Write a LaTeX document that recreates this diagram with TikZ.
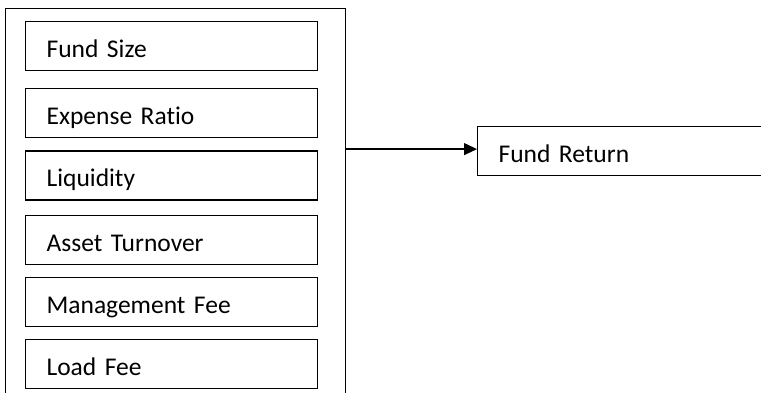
\documentclass[tikz,border=0pt]{standalone}
\usepackage{fontspec}
\setmainfont{Carlito}[Ligatures=NoCommon]
\usetikzlibrary{arrows.meta, positioning}

\begin{document}
\begin{tikzpicture}[
      x = 1pt, y = 1pt,
   node distance = 12pt,
    factor/.style = {rectangle, draw, line width=1.2pt,
                     minimum width=292pt, minimum height=49pt,
                     inner xsep=21pt, inner ysep=0pt,
                     text width=250pt, align=left,
                     text height=36pt, text depth=13pt,
                     font=\fontsize{25.5}{30}\selectfont},
     group/.style = {rectangle, draw, line width=1pt, inner sep=0pt,
                     minimum width=340pt, minimum height=400pt},
       arr/.style = {line width=1.2pt, -{Triangle[length=13pt,width=12pt]}}
                    ]
  \useasboundingbox (0,0) rectangle (761,393);
  \node (grp) [group, anchor=north west] at (5,385) {};
  \node (n1) [factor, anchor=north west] at (25,372) {Fund Size};
  \node (n2) [factor, below=17pt of n1] {Expense Ratio};
  \node (n3) [factor, below=of n2] {Liquidity};
  \node (n4) [factor, below=14pt of n3] {Asset Turnover};
  \node (n5) [factor, below=of n4] {Management Fee};
  \node (n6) [factor, below=of n5] {Load Fee};
  \node (ret) [factor, minimum width=300pt, text width=258pt,
               anchor=north west] at (477,267) {Fund Return};
    \draw [arr]
        ([yshift=2pt]ret.west -| grp.east) -- ([yshift=2pt]ret.west);
\end{tikzpicture}
\end{document}
